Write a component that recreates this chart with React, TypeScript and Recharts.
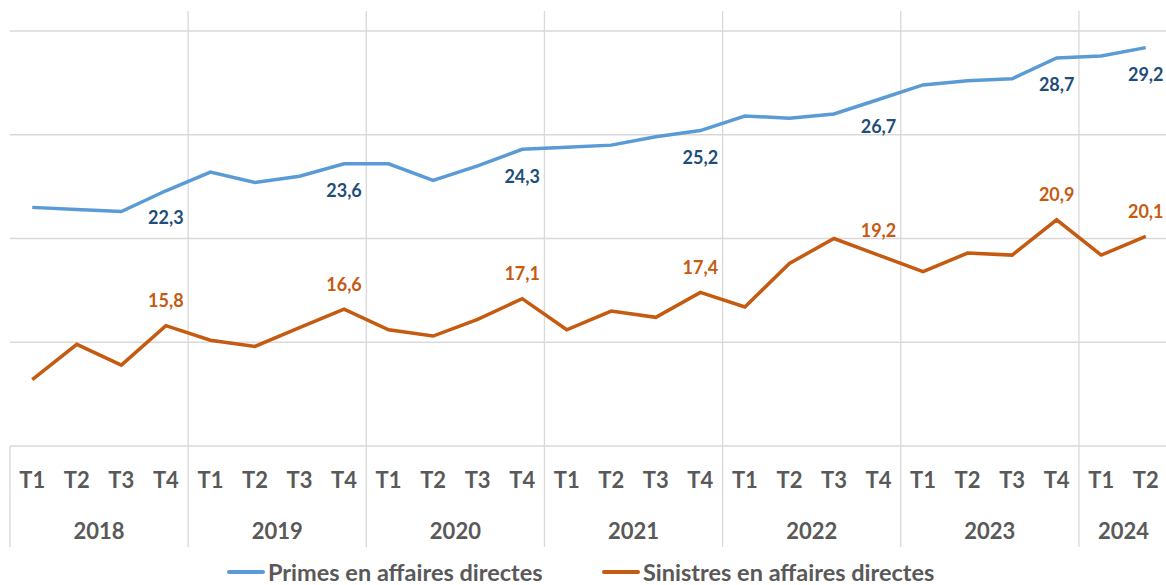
import React from 'react';
import { LineChart, Line, XAxis, YAxis, CartesianGrid, ReferenceLine, LabelList, Legend } from 'recharts';

const quarters = [
  'T1', 'T2', 'T3', 'T4',
  'T1', 'T2', 'T3', 'T4',
  'T1', 'T2', 'T3', 'T4',
  'T1', 'T2', 'T3', 'T4',
  'T1', 'T2', 'T3', 'T4',
  'T1', 'T2', 'T3', 'T4',
  'T1', 'T2',
];
const quarterYears = [
  '2018', '2018', '2018', '2018',
  '2019', '2019', '2019', '2019',
  '2020', '2020', '2020', '2020',
  '2021', '2021', '2021', '2021',
  '2022', '2022', '2022', '2022',
  '2023', '2023', '2023', '2023',
  '2024', '2024',
];
const primes = [
  21.5, 21.4, 21.3, 22.3,
  23.2, 22.7, 23.0, 23.6,
  23.6, 22.8, 23.5, 24.3,
  24.4, 24.5, 24.9, 25.2,
  25.9, 25.8, 26.0, 26.7,
  27.4, 27.6, 27.7, 28.7,
  28.8, 29.2,
];
const sinistres = [
  13.2, 14.9, 13.9, 15.8,
  15.1, 14.8, 15.7, 16.6,
  15.6, 15.3, 16.1, 17.1,
  15.6, 16.5, 16.2, 17.4,
  16.7, 18.8, 20.0, 19.2,
  18.4, 19.3, 19.2, 20.9,
  19.2, 20.1,
];
const yTicks = [10, 15, 20, 25, 30];
const seriesNames = ['Primes en affaires directes', 'Sinistres en affaires directes'];
const seriesColors = ['#5B9BD5', '#C55A11'];
const labelColors = ['#1F4E79', '#C55A11'];

const FONT = 'Lato, "Open Sans", sans-serif';
const AXIS_TEXT = '#595959';
const GRID = '#D9D9D9';

const W = 1168;
const H = 585;
const MARGIN = { top: 31, right: 0, left: 10, bottom: 0 };
const XAXIS_H = 101;
const LEGEND_H = 38;
const PLOT_H = H - MARGIN.top - MARGIN.bottom - XAXIS_H - LEGEND_H;

const data = quarters.map((q, i) => ({
  idx: i,
  q,
  year: quarterYears[i],
  primes: primes[i],
  sinistres: sinistres[i],
}));

const years = Array.from(new Set(quarterYears));
const yearCenters = years.map((y) => {
  const first = quarterYears.indexOf(y);
  const last = quarterYears.lastIndexOf(y);
  return (first + last) / 2;
});
const boundaries = quarterYears
  .map((y, i) => (i > 0 && y !== quarterYears[i - 1] ? i - 0.5 : null))
  .filter((v) => v !== null) as number[];

const xTicks = [...quarters.map((_, i) => i), ...yearCenters].sort((a, b) => a - b);
const yMin = yTicks[0];
const yMax = yTicks[yTicks.length - 1];
const unit = PLOT_H / (yMax - yMin);
const yLow = yMin - XAXIS_H / unit;
const yHigh = yMax + 20 / unit;

const AxisTick = (props: any) => {
  const { x, y, payload } = props;
  const v = payload.value;
  if (Number.isInteger(v)) {
    return (
      <text x={x} y={y} dy={42} textAnchor="middle" fill={AXIS_TEXT} fontFamily={FONT} fontWeight={700} fontSize={22}>
        {quarters[v]}
      </text>
    );
  }
  const yi = yearCenters.indexOf(v);
  if (yi >= 0) {
    return (
      <text x={x} y={y} dy={92.5} textAnchor="middle" fill={AXIS_TEXT} fontFamily={FONT} fontWeight={700} fontSize={22}>
        {years[yi]}
      </text>
    );
  }
  return <g />;
};

const makeLabel = (color: string, dy: number) => (props: any) => {
  const { x, y, value, index } = props;
  if (!(quarters[index] === 'T4' || index === quarters.length - 1)) return <g />;
  return (
    <text x={x} y={y} dy={dy} textAnchor="middle" fill={color} fontFamily={FONT} fontWeight={700} fontSize={18}>
      {Number(value).toFixed(1).replace('.', ',')}
    </text>
  );
};

const legendLefts = [227, 602];
const renderLegend = () => (
  <div style={{ position: 'relative', width: 1166, height: LEGEND_H }}>
    {seriesNames.map((name, i) => (
      <div
        key={name}
        style={{
          position: 'absolute',
          left: legendLefts[i],
          top: 13,
          height: 24,
          display: 'flex',
          alignItems: 'center',
          whiteSpace: 'nowrap',
        }}
      >
        <span style={{ display: 'inline-block', width: 38, height: 4, background: seriesColors[i], marginRight: 3, borderRadius: 2 }} />
        <span style={{ fontFamily: FONT, fontWeight: 700, fontSize: 23.5, color: AXIS_TEXT, lineHeight: '24px' }}>{name}</span>
      </div>
    ))}
  </div>
);

export default function App() {
  return (
    <div style={{ position: 'fixed', left: 0, top: 0, width: 1166, height: 585, overflow: 'hidden', background: '#fff' }}>
      <LineChart width={W} height={H} data={data} margin={MARGIN}>
        <CartesianGrid horizontal vertical={false} stroke={GRID} strokeWidth={1.3} />
        <XAxis
          dataKey="idx"
          type="number"
          domain={[-0.5, quarters.length - 0.5]}
          ticks={xTicks}
          interval={0}
          tick={<AxisTick />}
          tickSize={0}
          tickMargin={0}
          axisLine={false}
          tickLine={false}
          height={XAXIS_H}
          allowDecimals
        />
        <YAxis hide domain={[yMin, yMax]} ticks={yTicks} />
        <ReferenceLine
          ifOverflow="visible"
          stroke={GRID}
          strokeWidth={1.3}
          segment={[{ x: -0.5, y: yLow }, { x: -0.5, y: yMin }]}
        />
        {boundaries.map((b) => (
          <ReferenceLine
            key={b}
            ifOverflow="visible"
            stroke={GRID}
            strokeWidth={1.3}
            segment={[{ x: b, y: yLow }, { x: b, y: yHigh }]}
          />
        ))}
        <Legend verticalAlign="bottom" content={renderLegend} wrapperStyle={{ left: 0, width: 1166, height: LEGEND_H, bottom: 0 }} />
        <Line
          type="linear"
          dataKey="primes"
          name={seriesNames[0]}
          stroke={seriesColors[0]}
          strokeWidth={3.5}
          dot={false}
          isAnimationActive={false}
        >
          <LabelList dataKey="primes" content={makeLabel(labelColors[0], 33.5)} />
        </Line>
        <Line
          type="linear"
          dataKey="sinistres"
          name={seriesNames[1]}
          stroke={seriesColors[1]}
          strokeWidth={3.5}
          dot={false}
          isAnimationActive={false}
        >
          <LabelList dataKey="sinistres" content={makeLabel(labelColors[1], -18.5)} />
        </Line>
      </LineChart>
    </div>
  );
}
